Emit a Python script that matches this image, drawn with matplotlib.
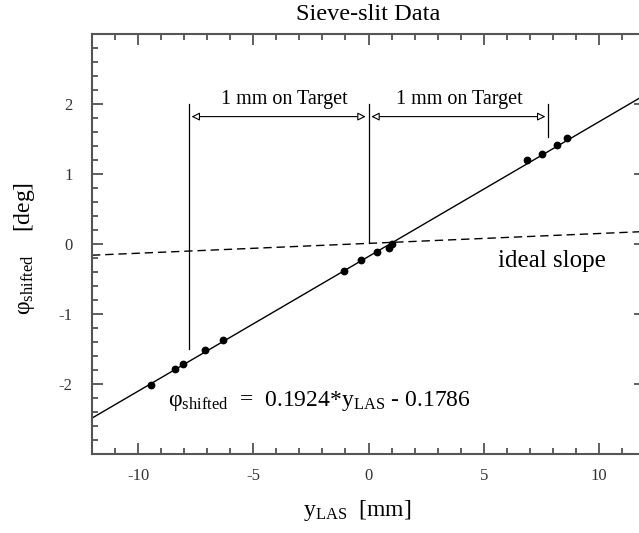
import matplotlib
matplotlib.use('Agg')
import numpy as np
import matplotlib.pyplot as plt
from matplotlib.ticker import MultipleLocator

plt.rcParams['font.family'] = ['Liberation Serif', 'DejaVu Serif']
plt.rcParams['mathtext.default'] = 'regular'
plt.rcParams['axes.unicode_minus'] = False

# sieve-slit points
y_las = [-9.43, -8.38, -8.06, -7.08, -6.33, -1.08, -0.32, 0.36, 0.87, 1.01,
         6.88, 7.53, 8.17, 8.6]
phi_shifted = [-2.01, -1.78, -1.72, -1.52, -1.37, -0.385, -0.23, -0.12, -0.055, 0.007,
               1.20, 1.29, 1.415, 1.51]

# fit and ideal slope
fit_slope, fit_offset = 0.1924, -0.1786
ideal_slope, ideal_offset = 0.0141, 0.009

# "1 mm on Target" markers: x position, bottom end of the vertical line
marker_x = [-7.8, 0.0, 7.8]
marker_bottom = [-1.5, 0.01, 1.53]
marker_top = 2.0
arrow_y = 1.82

fig = plt.figure(figsize=(6.39, 5.33), dpi=100)
ax = fig.add_axes([92/639, 79/533, 553/639, 420/533])

xx = np.array([-12, 12])
ax.plot(xx, fit_slope*xx + fit_offset, color='black', lw=1.0)
ax.plot(xx, ideal_slope*xx + ideal_offset, color='black', lw=1.0, dashes=(6, 3.5))
ax.plot(y_las, phi_shifted, 'o', color='black', ms=4.6)

for x, yb in zip(marker_x, marker_bottom):
    ax.plot([x, x], [yb, marker_top], color='black', lw=0.9)

for x0, x1 in zip(marker_x[:-1], marker_x[1:]):
    ax.annotate('', xy=(x1, arrow_y), xytext=(x0, arrow_y),
                arrowprops=dict(arrowstyle='<|-|>', fc='white', ec='black', lw=0.8,
                                mutation_scale=12, shrinkA=2, shrinkB=2))
ax.text(-3.65, 2.0, '1 mm on Target', ha='center', va='baseline', fontsize=14.5)
ax.text(3.95, 2.0, '1 mm on Target', ha='center', va='baseline', fontsize=14.5)

ax.text(5.6, -0.33, 'ideal slope', ha='left', va='baseline', fontsize=18)
ax.text(-8.68, -2.32, 'φ$_{shifted}$  =  0.1924*y$_{LAS}$ - 0.1786',
        ha='left', va='baseline', fontsize=17)

ax.set_xlim(-12, 12)
ax.set_ylim(-3, 3)
ax.xaxis.set_major_locator(MultipleLocator(5))
ax.xaxis.set_minor_locator(MultipleLocator(1))
ax.yaxis.set_major_locator(MultipleLocator(1))
ax.yaxis.set_minor_locator(MultipleLocator(0.2))
ax.set_yticks([-2, -1, 0, 1, 2])
ax.tick_params(which='both', direction='in', top=True, right=True, color='#444444', width=1.2)
ax.tick_params(which='major', length=8)
ax.tick_params(which='minor', length=4)
ax.tick_params(axis='x', pad=10, labelsize=12, labelcolor='#333333')
ax.tick_params(axis='y', pad=14, labelsize=12, labelcolor='#333333')
for s in ax.spines.values():
    s.set_color('#555555')
    s.set_linewidth(1.5)

ax.set_title('Sieve-slit Data', fontsize=17.5, pad=10)
ax.set_xlabel('y$_{LAS}$  [mm]', fontsize=17)
ax.set_ylabel('φ$_{shifted}$    [deg]', fontsize=17)
ax.xaxis.set_label_coords(0.48, -0.105)
ax.yaxis.set_label_coords(-0.10, 0.49)

fig.savefig('out.png', dpi=100)
